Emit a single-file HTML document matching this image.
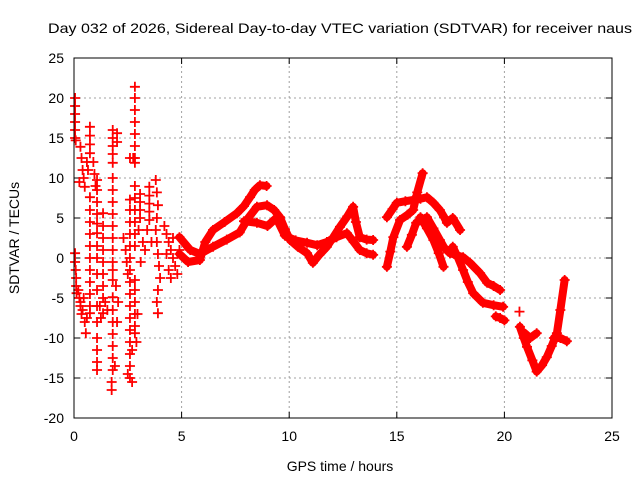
<!DOCTYPE html>
<html><head><meta charset="utf-8"><style>
html,body{margin:0;padding:0;background:#fff;}
svg{display:block;font-family:"Liberation Sans",sans-serif;}
</style></head><body>
<svg id="chart" width="640" height="480" viewBox="0 0 640 480" xmlns="http://www.w3.org/2000/svg">
<rect width="640" height="480" fill="#fff"/>
<text x="340" y="33" text-anchor="middle" font-size="14" textLength="584" lengthAdjust="spacingAndGlyphs">Day 032 of 2026, Sidereal Day-to-day VTEC variation (SDTVAR) for receiver naus</text>
<text x="340" y="471" text-anchor="middle" font-size="14">GPS time / hours</text>
<text x="0" y="0" transform="translate(19,238) rotate(-90)" text-anchor="middle" font-size="14">SDTVAR / TECUs</text>
<g id="grid"></g>
<g id="ticks"></g>
<g id="marks"></g>
<rect x="74" y="58" width="538" height="360" fill="none" stroke="#000" stroke-width="1"/>
</svg>
<script>
const xTicks = [0,5,10,15,20,25];
const yTicks = [-20,-15,-10,-5,0,5,10,15,20,25];
// early scattered streaks: [t, v]
const earlyPts = [
[0.05,20],[0.05,19],[0.05,18],[0.05,17],[0.05,16],[0.05,15],[0.08,14.7],
[0.05,0.6],[0.05,-0.5],[0.08,-1.5],[0.1,-2.5],[0.1,-3.5],[0.12,-4.4],
[0.2,-4],[0.25,-5],[0.3,-6],[0.35,-7],[0.4,-6.5],[0.5,-8],[0.55,-9.4],[0.3,-5.5],[0.45,-5],[0.6,-7.5],
[0.3,13.9],[0.35,12.5],[0.4,11],[0.45,10],[0.5,8.9],[0.6,12],[0.65,11],[0.25,9.5],
[0.74,16.4],[0.74,15.3],[0.74,14.2],[0.74,13.1],
[0.74,7.6],[0.74,6],[0.74,4.5],[0.74,3],[0.74,1.5],[0.74,0],[0.74,-1.5],[0.74,-3],[0.74,-4.5],[0.74,-6],[0.74,-6.9],
[0.9,12],[0.95,10.5],[1.0,9],
[1.07,9.75],[1.07,8.5],[1.07,7],[1.07,5.5],[1.07,4.3],[1.07,3.1],[1.07,1.5],[1.07,0],[1.07,-2],[1.07,-4],[1.07,-6],[1.07,-8],[1.07,-10],[1.07,-11.5],[1.07,-13],[1.07,-14],
[1.35,5.6],[1.35,4],[1.35,2.5],[1.35,1],[1.35,-0.5],[1.35,-2],[1.35,-3.5],[1.35,-5],[1.35,-6.9],[1.2,-6],[1.25,-7.5],[1.45,-5.5],[1.55,-6.5],
[1.8,16],[1.8,15],[1.8,14],[1.8,13],[1.8,11.9],[2.0,15.6],[2.0,14.5],
[1.8,10],[1.8,8.5],[1.8,7],[1.8,5.5],[1.8,4],[1.8,2.5],[1.8,1],[1.8,-0.5],[1.8,-1.5],[1.8,-2.75],
[1.8,-4.9],[1.8,-6.5],[1.8,-8],[1.8,-9.5],[1.8,-11],[1.8,-12.5],[1.8,-14],[1.75,-15.5],[1.75,-16.5],[1.9,-13.5],[2.0,-8],[2.05,-5.5],[1.95,-3.5],
[2.3,2.5],[2.4,1],[2.45,-0.5],[2.5,-2],
[2.6,12.5],[2.6,7.3],[2.6,6],[2.6,4.5],[2.6,3],[2.6,1.5],[2.6,0],[2.6,-1.5],[2.6,-3],[2.6,-4.5],[2.6,-6],[2.6,-7.5],[2.6,-9],[2.6,-10.5],[2.6,-12],[2.6,-13.5],[2.6,-15],[2.5,-14.5],[2.7,-15.5],[2.7,-11.5],
[2.83,21.4],[2.83,20],[2.83,18.5],[2.83,17],[2.83,15.5],[2.83,14],[2.83,12.5],[2.83,11.9],[2.75,12.5],
[2.83,9],[2.83,7.5],[2.83,6],[2.83,4.5],[2.83,3],[2.83,1.5],
[2.83,-2.75],[2.83,-4],[2.83,-5.5],[2.83,-7],[2.83,-8.5],[2.83,-9.4],[2.9,-10.5],[2.95,-7],
[3.07,8],[3.07,7],[3.07,6],[3.07,5],[3.0,3.5],[3.2,2],[3.3,1],[3.1,-0.5],
[3.5,8.9],[3.5,7.8],[3.5,6.8],[3.5,5.8],[3.5,4.75],[3.4,3.5],[3.6,2],
[3.8,9.75],[3.85,8.2],[3.9,6.6],[3.85,5],[3.8,3.5],[3.85,2],[3.9,0.5],[3.95,-1],[4.0,-2.5],[3.9,-4],[3.85,-5.5],[3.9,-6.9],
[4.2,4],[4.3,3],[4.4,2],[4.5,1],[4.6,0],[4.7,-1],[4.8,-2],[4.4,-1.5],[4.5,-2.5],[4.9,1],[4.3,0.5],[4.6,2.5],
[20.7,-6.7]
];
// dense traces: arrays of [t, v]
const traceA = [[4.9,0.5],[5.3,-0.5],[5.85,-0.25],[6.1,2],[6.46,3.5],[7.0,4.5],[7.57,5.6],[7.9,6.5],[8.18,7.6],[8.4,8.5],[8.64,9.1],[8.95,9]];
const traceB = [[4.9,2.6],[5.4,1],[5.85,0.5],[6.46,1.4],[7.1,2.3],[7.7,3.2],[8.1,5],[8.5,6.4],[8.97,6.6],[9.3,6],[9.57,5.1],[9.8,3.6],[10.04,2.25],[10.4,1.4],[10.83,0.6],[11.1,-0.6],[11.4,0.4],[11.75,1.4],[12.05,2.6],[12.36,3.9],[12.7,5.2],[12.97,6.4],[13.1,4.5],[13.28,2.6],[13.6,2.3],[13.9,2.25]];
const traceC = [[7.9,4.6],[8.5,4.4],[8.99,4],[9.4,5],[9.8,2.8],[10.3,2.2],[10.83,1.9],[11.3,1.6],[11.75,2],[12.2,2.6],[12.68,3.1],[13.0,2],[13.28,1],[13.6,0.6],[13.9,0.4]];
const traceD = [[14.54,-1.1],[14.7,0.8],[14.84,2.6],[15.15,4.75],[15.5,5.4],[15.76,6],[15.95,8.2],[16.2,10.6]];
const traceE = [[14.54,5.1],[14.8,6.1],[15.0,6.9],[15.4,7.1],[15.76,7.25],[16.1,7.4],[16.4,7.6],[16.7,6.9],[17.0,6],[17.2,5.1],[17.33,4.4],[17.6,5],[17.94,3.5]];
const traceF = [[15.47,1.4],[15.7,2.9],[15.9,4.4],[16.4,5.1],[16.7,3.7],[17.0,2.25],[17.2,1.3],[17.47,0.6],[18.08,0.1],[18.4,-0.6],[18.87,-1.9],[19.2,-3.1],[19.5,-3.5],[19.8,-4]];
const traceG = [[16.1,5.1],[16.4,3.7],[16.7,2.25],[16.95,0.6],[17.17,-1.1]];
const traceH = [[17.6,1.4],[17.85,0],[18.08,-1.5],[18.3,-3],[18.55,-4.4],[19.0,-5.6],[19.5,-5.9],[19.94,-6.1]];
const traceK = [[19.6,-7.3],[19.8,-7.5],[20.0,-7.8]];
const traceI = [[20.72,-8.6],[20.9,-10],[21.05,-11.1],[21.3,-12.8],[21.5,-14.2],[21.75,-13.4],[21.97,-12.4],[22.2,-11],[22.44,-9.4],[22.6,-6.5],[22.8,-2.75]];
const traceJ = [[20.9,-9.3],[21.2,-10],[21.5,-9.4]];
const traceL = [[22.3,-10],[22.6,-10],[22.9,-10.4]];
const traces = [traceA,traceB,traceC,traceD,traceE,traceF,traceG,traceH,traceK,traceI,traceJ,traceL];

const X0=74, X1=612, Y0=418, Y1=58;
function xs(t){return X0+(t-0)/(25-0)*(X1-X0);}
function ys(v){return Y0-(v-(-20))/(25-(-20))*(Y0-Y1);}
const NS="http://www.w3.org/2000/svg";
const grid=document.getElementById('grid'), ticks=document.getElementById('ticks'), marks=document.getElementById('marks');
function mk(tag,attrs,parent){const e=document.createElementNS(NS,tag);for(const k in attrs)e.setAttribute(k,attrs[k]);parent.appendChild(e);return e;}
xTicks.forEach(t=>{
  const x=xs(t);
  if(t>0&&t<25){const g=mk('line',{x1:x,y1:Y0,x2:x,y2:Y1,stroke:'#a0a0a0','stroke-dasharray':'2,3','stroke-width':1},grid);
  
  }
  const tk=mk('path',{d:`M${x},${Y0}v-6M${x},${Y1}v6`,stroke:'#000'},ticks);
  
  
  const lb=mk('text',{x:x,y:Y0+23,'text-anchor':'middle','font-size':14},ticks);
  lb.textContent=t;
  
  
});
yTicks.forEach(v=>{
  const y=ys(v);
  if(v>-20&&v<25){const g=mk('line',{x1:X0,y1:y,x2:X1,y2:y,stroke:'#a0a0a0','stroke-dasharray':'2,3','stroke-width':1},grid);
  
  }
  const tk=mk('path',{d:`M${X0},${y}h6M${X1},${y}h-6`,stroke:'#000'},ticks);
  
  
  const lb=mk('text',{x:X0-10,y:y+5,'text-anchor':'end','font-size':14},ticks);
  lb.textContent=v;
  
  
});
function plus(t,v){
  const x=xs(t),y=ys(v);
  const p=mk('path',{d:`M${x-5},${y}h10M${x},${y-5}v10`,stroke:'#f00','stroke-width':1.8},marks);
  
  
}
earlyPts.forEach(p=>plus(p[0],p[1]));
traces.forEach(tr=>{
  const pl=mk('polyline',{points:tr.map(p=>xs(p[0])+','+ys(p[1])).join(' '),fill:'none',stroke:'#f00','stroke-width':8,'stroke-linejoin':'round','stroke-linecap':'round'},marks);
  
  
  tr.forEach(p=>plus(p[0],p[1]));
});
</script>
</body></html>
